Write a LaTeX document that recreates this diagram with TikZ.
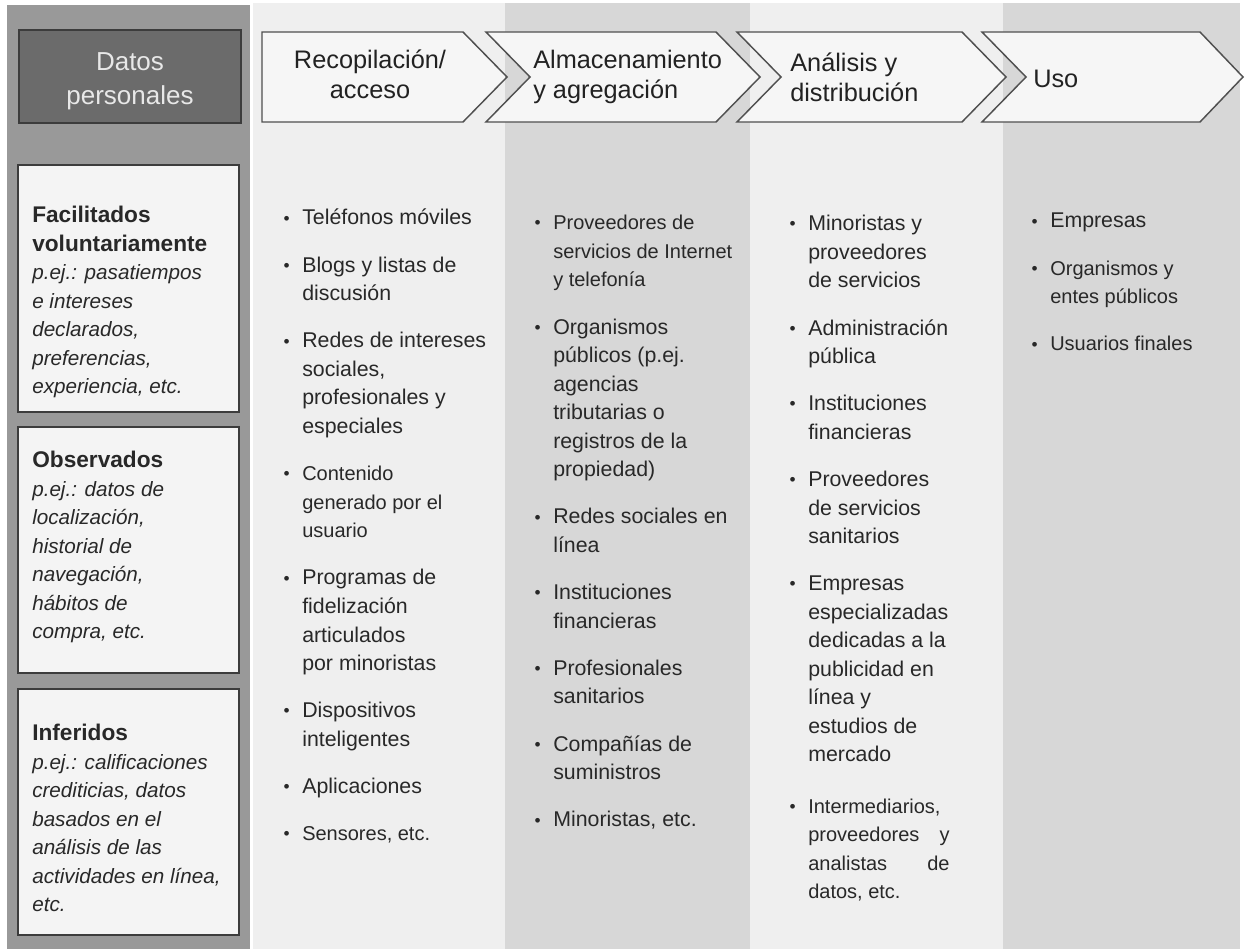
\documentclass[tikz,border=0pt]{standalone}
\usepackage{fontspec}
\setmainfont{Liberation Sans}
\newcommand{\bul}{\llap{\raisebox{0.6pt}{\fontsize{13}{13}\selectfont\textbullet}\hspace{9.5pt}}}
\newcommand{\sm}{\fontsize{15}{21.4}\selectfont}
\newcommand{\cattitle}[1]{{\fontsize{17}{21.4}\selectfont\upshape\bfseries #1}}
\begin{document}
\begin{tikzpicture}[x=0.75pt,y=0.75pt,yscale=-1,xscale=1,
  band dark/.style={draw opacity=0, fill={rgb, 255:red, 153; green, 153; blue, 153}},
  band light/.style={draw opacity=0, fill={rgb, 255:red, 239; green, 239; blue, 239}},
  band mid/.style={draw opacity=0, fill={rgb, 255:red, 215; green, 215; blue, 215}},
  head box/.style={draw={rgb, 255:red, 60; green, 60; blue, 60}, line width=1.1pt, fill={rgb, 255:red, 107; green, 107; blue, 107}},
  head text/.style={inner sep=0pt, align=center, text={rgb, 255:red, 232; green, 232; blue, 232}, font=\fontsize{19.5}{25.5}\selectfont},
  chevron/.style={draw={rgb, 255:red, 80; green, 80; blue, 80}, line width=1.1pt, fill={rgb, 255:red, 246; green, 246; blue, 246}, line join=miter},
  chev text/.style={inner sep=0pt, align=left, text={rgb, 255:red, 34; green, 34; blue, 34}, font=\fontsize{19}{22.5}\selectfont},
  cat box/.style={draw={rgb, 255:red, 60; green, 60; blue, 60}, line width=1.1pt, fill={rgb, 255:red, 244; green, 244; blue, 244}},
  cat text/.style={inner sep=0pt, anchor=north west, align=left, text={rgb, 255:red, 40; green, 40; blue, 40}, font=\fontsize{15.5}{21.4}\selectfont\itshape},
  lst/.style={inner sep=0pt, anchor=north west, align=left, text={rgb, 255:red, 40; green, 40; blue, 40}, font=\fontsize{16}{21.4}\selectfont}
]
\useasboundingbox (0,0) rectangle (1245,949);
\fill [white] (0,0) rectangle (1245,949);

%Shape: Rectangle (column bands)
\draw [band dark] (7,5) rectangle (250,949);
\draw [band light] (253,3) rectangle (505,949);
\draw [band mid] (505,3) rectangle (750,949);
\draw [band light] (750,3) rectangle (1003,949);
\draw [band mid] (1003,3) rectangle (1240,949);

%Shape: Rectangle (Datos personales)
\draw [head box] (19,30) rectangle (241,123);
\node [head text] (datos) at (130,81) {Datos\\personales};

%Shape: Chevrons
\draw [chevron] (262,32) -- (463,32) -- (507,77) -- (463,122) -- (262,122) -- cycle;
\draw [chevron] (486,32) -- (716,32) -- (760,77) -- (716,122) -- (486,122) -- (530,77) -- cycle;
\draw [chevron] (737,32) -- (962,32) -- (1006,77) -- (962,122) -- (737,122) -- (781,77) -- cycle;
\draw [chevron] (982,32) -- (1200,32) -- (1243,77) -- (1200,122) -- (982,122) -- (1026,77) -- cycle;

%Text Node (chevrons)
\node [chev text, align=center] (recopilacion) at (370,74) {Recopilación/\\acceso};
\node [chev text, anchor=west] (almacenamiento) at (533,77) {Almacenamiento\\y agregación};
\node [chev text, anchor=west] (analisis) at (790,77) {Análisis y\\distribución};
\node [chev text, anchor=west] (uso) at (1033,79) {Uso};

%Shape: Rectangle (tipos de datos)
\draw [cat box] (18,165) rectangle (239,412);
\draw [cat box] (18,427) rectangle (239,673);
\draw [cat box] (18,689) rectangle (239,935);

%Text Node (tipos de datos)
\node [cat text] (facilitados) at (32,206) {\cattitle{Facilitados}\\\cattitle{voluntariamente}\\p.ej.: pasatiempos\\e intereses\\declarados,\\preferencias,\\experiencia, etc.};
\node [cat text] (observados) at (32,451) {\cattitle{Observados}\\p.ej.: datos de\\localización,\\historial de\\navegación,\\hábitos de\\compra, etc.};
\node [cat text] (inferidos) at (32,724) {\cattitle{Inferidos}\\p.ej.: calificaciones\\crediticias, datos\\basados en el\\análisis de las\\actividades en línea,\\etc.};

%Text Node (Recopilación/acceso)
\node [lst] (lista rec) at (302,209) {\bul Teléfonos móviles\\[14pt]
\bul Blogs y listas de\\discusión\\[14pt]
\bul Redes de intereses\\sociales,\\profesionales y\\especiales\\[14pt]
{\sm\bul Contenido}\\{\sm generado por el}\\{\sm usuario}\\[14pt]
\bul Programas de\\fidelización\\articulados\\por minoristas\\[14pt]
\bul Dispositivos\\inteligentes\\[14pt]
\bul Aplicaciones\\[14pt]
{\sm\bul Sensores, etc.}};

%Text Node (Almacenamiento y agregación)
\node [lst] (lista alm) at (553,215) {{\sm\bul Proveedores de}\\{\sm servicios de Internet}\\{\sm y telefonía}\\[14pt]
\bul Organismos\\públicos (p.ej.\\agencias\\tributarias o\\registros de la\\propiedad)\\[14pt]
\bul Redes sociales en\\línea\\[14pt]
\bul Instituciones\\financieras\\[14pt]
\bul Profesionales\\sanitarios\\[14pt]
\bul Compañías de\\suministros\\[14pt]
\bul Minoristas, etc.};

%Text Node (Análisis y distribución)
\node [lst] (lista ana) at (808,215) {\bul Minoristas y\\proveedores\\de servicios\\[14pt]
\bul Administración\\pública\\[14pt]
\bul Instituciones\\financieras\\[14pt]
\bul Proveedores\\de servicios\\sanitarios\\[14pt]
\bul Empresas\\especializadas\\dedicadas a la\\publicidad en\\línea y\\estudios de\\mercado\\[17pt]
{\sm\bul Intermediarios,}\\{\sm\hbox to 106pt{proveedores\hfill y}}\\{\sm\hbox to 106pt{analistas\hfill de}}\\{\sm datos, etc.}};

%Text Node (Uso)
\node [lst] (lista uso) at (1050,213) {\bul Empresas\\[14pt]
{\sm\bul Organismos y}\\{\sm entes públicos}\\[14pt]
{\sm\bul Usuarios finales}};

\end{tikzpicture}
\end{document}
